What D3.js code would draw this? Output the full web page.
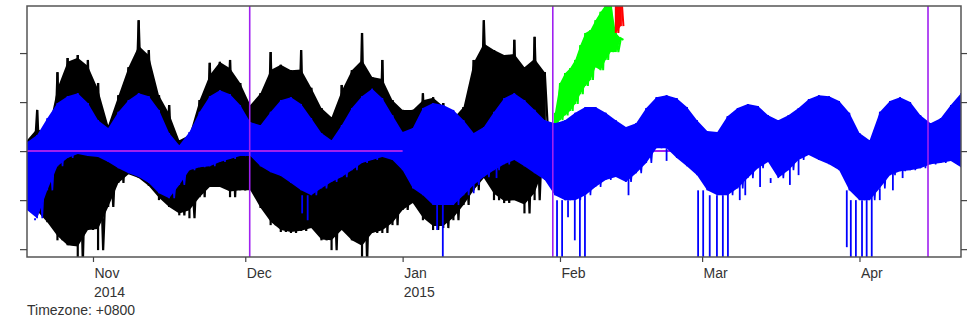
<!DOCTYPE html>
<html lang="en">
<head>
<meta charset="UTF-8">
<title>Tide chart</title>
<script src="https://cdn.jsdelivr.net/npm/d3@7"></script>
<style>
    body { margin: 0; background: #fff; }
    text { font-family: "Liberation Sans", Arial, sans-serif; font-size: 14px; fill: #333; }
</style>
</head>
<body>
<script>
var startDate = new Date(Date.UTC(2014, 9, 19));
var endDate = new Date(Date.UTC(2015, 3, 21));

var blueHi = [0.18, 0.33, 0.67, 0.98, 1.12, 1.18, 0.98, 0.63, 0.47, 0.80,
    1.04, 1.18, 1.12, 0.84, 0.37, 0.12, 0.39, 0.80, 1.12, 1.24,
    1.16, 0.94, 0.59, 0.53, 0.80, 1.04, 1.10, 0.96, 0.67, 0.37,
    0.22, 0.53, 0.88, 1.12, 1.27, 1.08, 0.73, 0.39, 0.47, 0.88,
    0.98, 0.94, 0.84, 0.63, 0.37, 0.49, 0.80, 1.08, 1.18, 1.04,
    0.84, 0.63, 0.57, 0.63, 0.78, 0.90, 0.90, 0.78, 0.63, 0.49,
    0.57, 0.88, 1.10, 1.14, 1.08, 0.90, 0.63, 0.41, 0.39, 0.71,
    0.88, 0.96, 0.92, 0.73, 0.63, 0.73, 0.88, 1.06, 1.14, 1.12,
    1.02, 0.78, 0.37, 0.22, 0.80, 1.02, 1.10, 1.00, 0.73, 0.57,
    0.67, 0.94, 1.18];
var blueLo = [-1.20, -1.37, -0.80, -0.31, -0.14, -0.06, -0.10, -0.12, -0.22, -0.35,
    -0.45, -0.53, -0.65, -0.86, -0.96, -0.69, -0.39, -0.33, -0.31, -0.22,
    -0.16, -0.10, -0.10, -0.31, -0.43, -0.51, -0.65, -0.80, -0.90, -0.76,
    -0.63, -0.53, -0.39, -0.24, -0.18, -0.12, -0.18, -0.39, -0.76, -0.90,
    -1.10, -1.10, -1.10, -0.90, -0.69, -0.53, -0.39, -0.27, -0.18, -0.31,
    -0.45, -0.59, -0.90, -1.00, -1.00, -0.90, -0.73, -0.59, -0.53, -0.63,
    -0.45, -0.24, 0.06, 0.06, -0.14, -0.31, -0.49, -0.80, -0.90, -0.90,
    -0.76, -0.55, -0.35, -0.22, -0.55, -0.39, -0.18, -0.08, -0.18, -0.27,
    -0.39, -0.80, -1.00, -1.00, -0.76, -0.49, -0.41, -0.39, -0.35, -0.27,
    -0.24, -0.20, -0.33];
// single low-water excursions below the band (day since start, value)
var blueSpikeDay = [1.6, 54.2, 55.3, 80.8, 81.9, 104.4, 105.4, 106.6, 107.9, 108.9,
    109.9, 132.2, 133.2, 134.5, 135.9, 137.1, 138.1, 140.4, 141.5, 144.4,
    146.5, 150.3, 152.0, 161.5, 162.3, 163.3, 164.5, 165.4, 166.4, 168.0,
    170.6, 172.5, 126.0, 118.5, 88.0, 92.5];
var blueSpikeVal = [-1.41, -1.27, -1.41, -1.61, -2.4, -2.4, -2.4, -1.35, -1.82, -2.4,
    -2.4, -2.4, -2.4, -2.4, -2.4, -2.4, -2.4, -1.00, -0.90, -0.73,
    -0.65, -0.69, -0.49, -1.96, -2.4, -2.4, -2.4, -2.4, -2.4, -1.00,
    -0.80, -0.55, -0.20, -0.90, -0.86, -0.55];

var blackHi = [0.22, 0.84, 0.33, 1.61, 1.90, 1.96, 1.86, 1.39, 0.53, 1.14,
    1.71, 2.67, 2.06, 1.14, 0.94, 0.22, 0.33, 1.04, 1.80, 1.82,
    1.86, 1.39, 0.94, 1.18, 2.02, 1.76, 1.65, 2.06, 1.29, 0.88,
    0.69, 1.35, 1.65, 2.41, 1.51, 1.86, 1.04, 0.84, 0.84, 1.18,
    1.10, 0.98, 0.67, 0.90, 1.86, 2.67, 2.06, 1.96, 2.27, 1.71,
    2.33, 1.61];
var blackLo = [-0.90, -1.31, -1.45, -1.82, -1.92, -2.30, -1.61, -2.02, -1.14, -0.65,
    -0.47, -0.55, -0.71, -1.00, -1.14, -1.31, -1.37, -0.94, -0.73, -0.73,
    -0.94, -0.80, -0.80, -1.16, -1.51, -1.65, -1.67, -1.63, -1.57, -1.82,
    -2.02, -1.61, -1.82, -2.30, -1.67, -1.67, -1.51, -1.20, -1.06, -1.41,
    -1.61, -1.57, -1.41, -1.10, -0.80, -0.55, -1.00, -1.06, -1.00, -1.27,
    -1.00, -0.29];

// forecast part, daily from day 104
var greenStart = 104;
var greenHi = [0.78, 1.39, 1.59, 1.69, 1.86, 2.16, 2.41, 2.47, 2.67, 2.84, 2.98, 3.08, 2.41, 2.30];
var greenLo = [0.53, 0.63, 0.73, 0.82, 0.96, 1.16, 1.33, 1.45, 1.71, 1.65, 1.86, 2.02, 2.02, 2.27];
var redStart = 116;
var redHi = [3.30, 3.30];
var redLo = [2.41, 2.55];

var markDates = ["2014-12-01T21:00Z", "2015-01-30T14:00Z", "2015-04-14T12:00Z"];
var zeroOnTopEnd = "2015-01-01T00:00Z";

var yTicks = [-2, -1, 0, 1, 2];
var monthTicks = ["2014-11-01", "2014-12-01", "2015-01-01", "2015-02-01", "2015-03-01", "2015-04-01"];
var monthLabels = ["Nov", "Dec", "Jan", "Feb", "Mar", "Apr"];
var yearLabels = ["2014", "", "2015", "", "", ""];

var W = 969, H = 323;
var m = {left: 27, top: 6, right: 961, bottom: 257};

var x = d3.scaleUtc().domain([startDate, endDate]).range([m.left, m.right]);
var y = d3.scaleLinear().domain([-2.16, 2.96]).range([m.bottom, m.top]);

function day(d) { return d3.utcHour.offset(startDate, Math.round(d * 24)); }

var svg = d3.select("body").append("svg").attr("width", W).attr("height", H);

svg.append("clipPath").attr("id", "plot")
    .append("rect").attr("x", m.left).attr("y", m.top)
    .attr("width", m.right - m.left).attr("height", m.bottom - m.top);

var g = svg.append("g").attr("clip-path", "url(#plot)");

// hi/lo arrays -> rows; the solid core is capped by the mean of the neighbouring readings
function rows(hi, lo, first, step) {
    return hi.map(function (h, i) {
        var nb = [i - 1, i, i + 1].filter(function (k) { return k >= 0 && k < hi.length; });
        return {
            d: first + i * step, hi: h, lo: lo[i],
            coreHi: Math.min(h, d3.mean(nb, function (k) { return hi[k]; })),
            coreLo: Math.max(lo[i], d3.mean(nb, function (k) { return lo[k]; }))
        };
    });
}
function zig(r, step) {
    var pts = [];
    r.forEach(function (p) {
        pts.push([day(p.d), p.hi]);
        pts.push([day(p.d + step / 2), p.lo]);
    });
    return pts;
}
var line = d3.line().x(function (p) { return x(p[0]); }).y(function (p) { return y(p[1]); });
var coreArea = d3.area()
    .x(function (p) { return x(day(p.d)); })
    .y0(function (p) { return y(p.coreLo); })
    .y1(function (p) { return y(p.coreHi); });
var fullArea = d3.area()
    .x(function (p) { return x(day(p.d)); })
    .y0(function (p) { return y(p.lo); })
    .y1(function (p) { return y(p.hi); });

function drawSeries(hi, lo, first, step, color, solid, width) {
    var r = rows(hi, lo, first, step);
    g.append("path").attr("d", (solid ? fullArea : coreArea)(r)).attr("fill", color);
    g.append("path").attr("d", line(zig(r, step)))
        .attr("fill", "none").attr("stroke", color).attr("stroke-width", width);
    // spikes up/down at each reading
    g.append("g").selectAll("line").data(r).enter().append("line")
        .attr("x1", function (p) { return x(day(p.d)); })
        .attr("x2", function (p) { return x(day(p.d)); })
        .attr("y1", function (p) { return y(p.hi); })
        .attr("y2", function (p) { return y(p.lo); })
        .attr("stroke", color).attr("stroke-width", width);
}

// observed
drawSeries(blackHi, blackLo, 0, 2, "#000", false, 2.2);
// forecast running off
drawSeries(greenHi, greenLo, greenStart, 1, "#00ff00", true, 2);
drawSeries(redHi, redLo, redStart, 1, "#ff0000", true, 2);

// zero line under the blue
g.append("line")
    .attr("x1", m.left).attr("x2", m.right)
    .attr("y1", y(0)).attr("y2", y(0))
    .attr("stroke", "#a020f0").attr("stroke-width", 2);

// predicted
drawSeries(blueHi, blueLo, 0, 2, "#0000ff", true, 1.6);
var blueR = rows(blueHi, blueLo, 0, 2);
var bisect = d3.bisector(function (p) { return p.d; }).left;
g.append("g").selectAll("line").data(blueSpikeDay).enter().append("line")
    .attr("x1", function (d) { return x(day(d)); })
    .attr("x2", function (d) { return x(day(d)); })
    .attr("y1", function (d) {
        var k = Math.min(blueR.length - 1, bisect(blueR, d));
        return y(blueR[k].lo);
    })
    .attr("y2", function (d, i) { return y(blueSpikeVal[i]); })
    .attr("stroke", "#0000ff").attr("stroke-width", 1.8);

// zero line on top for the first part
g.append("line")
    .attr("x1", m.left).attr("x2", x(new Date(zeroOnTopEnd)))
    .attr("y1", y(0)).attr("y2", y(0))
    .attr("stroke", "#a020f0").attr("stroke-width", 2);

g.selectAll(".mark").data(markDates).enter().append("line")
    .attr("x1", function (d) { return x(new Date(d)); })
    .attr("x2", function (d) { return x(new Date(d)); })
    .attr("y1", m.top).attr("y2", m.bottom)
    .attr("stroke", "#a020f0").attr("stroke-width", 1.6);

// frame
svg.append("rect")
    .attr("x", m.left).attr("y", m.top)
    .attr("width", m.right - m.left).attr("height", m.bottom - m.top)
    .attr("fill", "none").attr("stroke", "#555").attr("stroke-width", 1.5);

// axes
var yl = svg.append("g").attr("transform", "translate(" + m.left + ",0)")
    .call(d3.axisLeft(y).tickValues(yTicks).tickSize(7).tickFormat(""));
var yr = svg.append("g").attr("transform", "translate(" + m.right + ",0)")
    .call(d3.axisRight(y).tickValues(yTicks).tickSize(6).tickFormat(""));
var monthDates = monthTicks.map(function (s) { return new Date(s + "T00:00Z"); });
var xa = svg.append("g").attr("transform", "translate(0," + m.bottom + ")")
    .call(d3.axisBottom(x).tickValues(monthDates).tickSize(5).tickFormat(function (d, i) { return monthLabels[i]; }));
[yl, yr, xa].forEach(function (a) {
    a.select(".domain").remove();
    a.selectAll(".tick line").attr("stroke", "#444").attr("stroke-width", 1.2);
});
xa.selectAll(".tick text")
    .attr("text-anchor", "start").attr("dx", 1).attr("dy", 0).attr("y", 21)
    .style("font-size", "14px").attr("fill", "#333").style("font-family", "Liberation Sans, Arial, sans-serif");

svg.selectAll(".year").data(yearLabels).enter().append("text")
    .attr("x", function (d, i) { return x(monthDates[i]) + 1; })
    .attr("y", 297)
    .text(function (d) { return d; });

svg.append("text").attr("x", m.left).attr("y", 315).text("Timezone: +0800");
</script>
</body>
</html>
